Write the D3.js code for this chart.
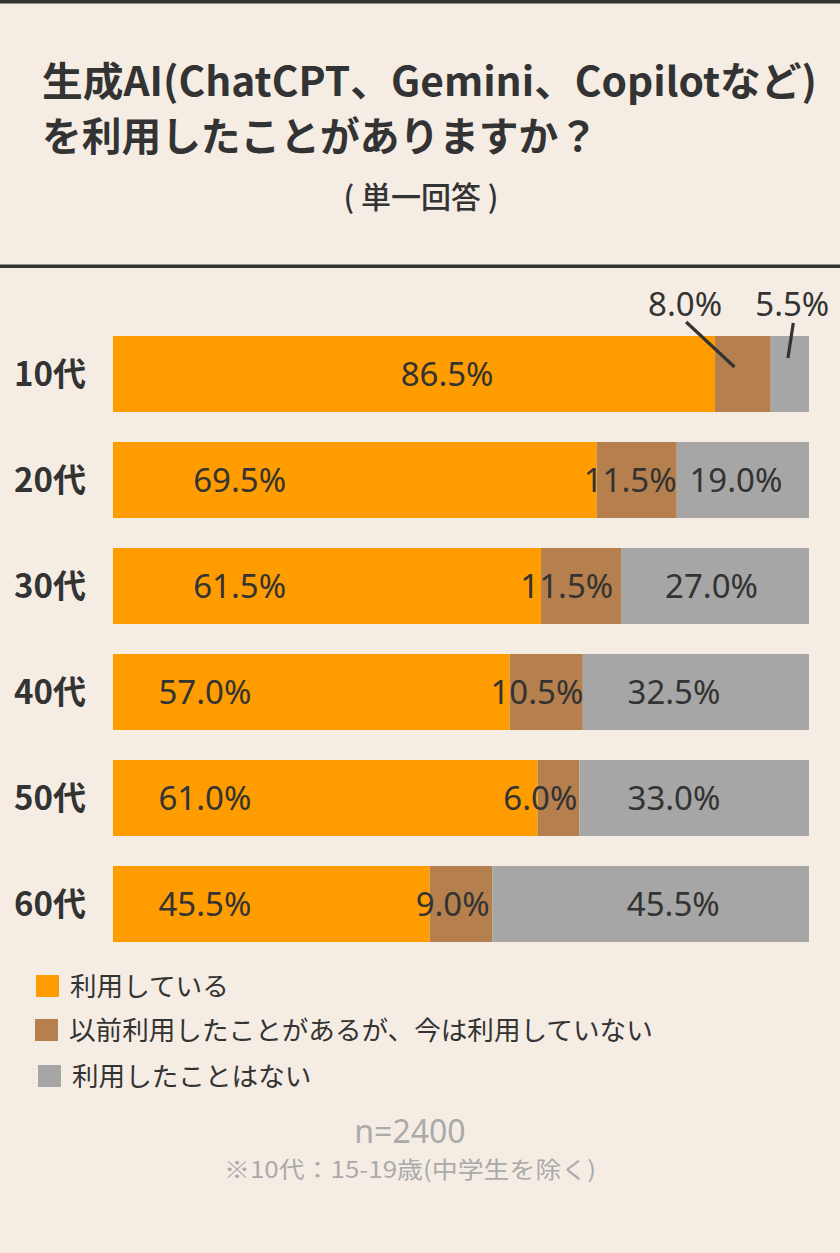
<!DOCTYPE html>
<html>
<head>
<meta charset="utf-8">
<script src="https://cdn.jsdelivr.net/npm/d3@7"></script>
<style>
  html, body { margin: 0; padding: 0; background: #f5ede4; }
  svg { display: block; }
</style>
</head>
<body>
<div id="chart"></div>
<script>
// chart data
const ages = ['10代', '20代', '30代', '40代', '50代', '60代'];
const series = ['利用している', '以前利用したことがあるが、今は利用していない', '利用したことはない'];
const using = [86.5, 69.5, 61.5, 57.0, 61.0, 45.5];
const usedBefore = [8.0, 11.5, 11.5, 10.5, 6.0, 9.0];
const never = [5.5, 19.0, 27.0, 32.5, 33.0, 45.5];

// where each value label sits, in percent along the bar
const labelAtUsing = [48.0, 18.2, 18.2, 13.2, 13.2, 13.2];
const labelAtBefore = [82.2, 74.3, 65.2, 60.9, 61.4, 48.8];
const labelAtNever = [97.6, 89.5, 86.0, 80.6, 80.6, 80.5];

const colors = ['#ff9d00', '#b5804e', '#a6a6a6'];
const ink = '#333333';
const jp = '"Noto Sans CJK JP", "Noto Sans", sans-serif';
const num = '"Noto Sans", "Noto Sans CJK JP", sans-serif';

const width = 840;
const height = 1253;

const svg = d3.select('#chart')
  .append('svg')
  .attr('width', width)
  .attr('height', height)
  .attr('viewBox', [0, 0, width, height]);

svg.append('rect')
  .attr('width', width).attr('height', height)
  .attr('fill', '#f5ede4');

// top rule and divider
svg.append('rect').attr('x', 0).attr('y', 0).attr('width', width).attr('height', 3.5).attr('fill', ink);
svg.append('rect').attr('x', 0).attr('y', 264.5).attr('width', width).attr('height', 3.5).attr('fill', ink);

// title
svg.append('text')
  .attr('x', 42).attr('y', 96)
  .attr('font-family', jp).attr('font-weight', 700).attr('font-size', 40)
  .attr('fill', ink)
  .attr('textLength', 775).attr('lengthAdjust', 'spacingAndGlyphs')
  .text('生成AI(ChatCPT、Gemini、Copilotなど)');

svg.append('text')
  .attr('x', 42).attr('y', 151)
  .attr('font-family', jp).attr('font-weight', 700).attr('font-size', 40)
  .attr('fill', ink)
  .attr('textLength', 556).attr('lengthAdjust', 'spacingAndGlyphs')
  .text('を利用したことがありますか？');

svg.append('text')
  .attr('x', 421).attr('y', 208)
  .attr('text-anchor', 'middle')
  .attr('font-family', jp).attr('font-weight', 500).attr('font-size', 30)
  .attr('fill', ink)
  .text('( 単一回答 )');

// scales
const x = d3.scaleLinear().domain([0, 100]).range([113, 809]);
const y = d3.scaleBand()
  .domain(ages)
  .range([321, 957])
  .paddingInner(0.283)
  .paddingOuter(0.1415);

// stacked rows
const rows = ages.map((a, i) => ({ age: a, 0: using[i], 1: usedBefore[i], 2: never[i] }));
const stack = d3.stack().keys([0, 1, 2])(rows);

svg.append('g')
  .selectAll('g')
  .data(stack)
  .join('g')
    .attr('fill', (d, i) => colors[i])
  .selectAll('rect')
  .data(d => d)
  .join('rect')
    .attr('x', d => x(d[0]))
    .attr('y', d => y(d.data.age))
    .attr('width', d => x(d[1]) - x(d[0]))
    .attr('height', y.bandwidth());

// age labels
svg.append('g')
  .selectAll('text')
  .data(ages)
  .join('text')
    .attr('x', 86)
    .attr('y', d => y(d) + y.bandwidth() / 2)
    .attr('dy', '0.36em')
    .attr('text-anchor', 'end')
    .attr('font-family', jp).attr('font-weight', 700).attr('font-size', 33)
    .attr('fill', ink)
    .text(d => d);

// value labels
const fmt = v => v.toFixed(1) + '%';
const labels = [];
ages.forEach((a, i) => {
  labels.push({ age: a, v: using[i], at: labelAtUsing[i], out: false });
  labels.push({ age: a, v: usedBefore[i], at: labelAtBefore[i], out: i === 0 });
  labels.push({ age: a, v: never[i], at: labelAtNever[i], out: i === 0 });
});

svg.append('g')
  .selectAll('text')
  .data(labels)
  .join('text')
    .attr('x', d => x(d.at))
    .attr('y', d => d.out ? y(d.age) - 20 : y(d.age) + y.bandwidth() / 2)
    .attr('dy', d => d.out ? 0 : '0.36em')
    .attr('text-anchor', 'middle')
    .attr('font-family', num).attr('font-size', 33)
    .attr('fill', ink)
    .text(d => fmt(d.v));

// leader lines for the small 10代 segments
const first = ages[0];
const leaders = [
  { x1: x(labelAtBefore[0]) + 1, y1: y(first) - 14, x2: x(using[0] + usedBefore[0] * 0.35), y2: y(first) + 31 },
  { x1: x(labelAtNever[0]) + 1, y1: y(first) - 13, x2: x(using[0] + usedBefore[0] + never[0] * 0.45), y2: y(first) + 22 }
];
svg.append('g')
  .selectAll('line')
  .data(leaders)
  .join('line')
    .attr('x1', d => d.x1).attr('y1', d => d.y1)
    .attr('x2', d => d.x2).attr('y2', d => d.y2)
    .attr('stroke', ink)
    .attr('stroke-width', 3.2);

// legend
const legendY = [986, 1030, 1076];
const legendX = [36, 35, 38];
const legend = svg.append('g')
  .selectAll('g')
  .data(series)
  .join('g')
    .attr('transform', (d, i) => `translate(${legendX[i]},${legendY[i]})`);

legend.append('rect')
  .attr('x', 0).attr('y', -11)
  .attr('width', 23).attr('height', 22)
  .attr('fill', (d, i) => colors[i]);

legend.append('text')
  .attr('x', 34).attr('y', 0)
  .attr('dy', '0.36em')
  .attr('font-family', jp).attr('font-size', 26.6)
  .attr('fill', ink)
  .text(d => d);

// footer
svg.append('text')
  .attr('x', 410).attr('y', 1143)
  .attr('text-anchor', 'middle')
  .attr('font-family', num).attr('font-size', 32)
  .attr('fill', '#aaaaaa')
  .text('n=2400');

svg.append('text')
  .attr('x', 410).attr('y', 1178)
  .attr('text-anchor', 'middle')
  .attr('font-family', jp).attr('font-size', 23)
  .attr('fill', '#aaaaaa')
  .attr('textLength', 372).attr('lengthAdjust', 'spacingAndGlyphs')
  .text('※10代：15-19歳(中学生を除く)');
</script>
</body>
</html>
